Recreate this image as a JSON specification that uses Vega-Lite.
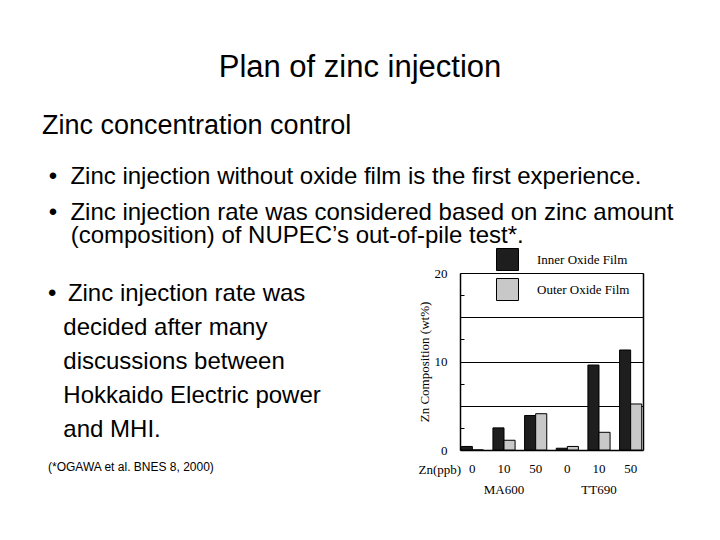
{
  "$schema": "https://vega.github.io/schema/vega-lite/v6.json",
  "background": "white",
  "padding": {"top": 52, "left": 0, "right": 0, "bottom": 0},
  "config": {
    "view": {"stroke": null},
    "font": "Liberation Sans",
    "title": {"fontWeight": "normal", "color": "black", "subtitleColor": "black", "font": "Liberation Sans", "subtitleFont": "Liberation Sans"}
  },
  "title": {
    "text": "Plan of zinc injection",
    "fontSize": 31,
    "anchor": "middle",
    "offset": 28
  },
  "spacing": 0,
  "vconcat": [
    {
      "width": 720,
      "height": 10,
      "data": {"values": []},
      "mark": "text",
      "title": {
        "text": "Zinc concentration control",
        "subtitle": "\u200b\u00a0•\u00a0\u00a0Zinc injection without oxide film is the first experience.",
        "anchor": "start",
        "dx": 42,
        "fontSize": 27,
        "subtitleFontSize": 24,
        "subtitlePadding": 25,
        "offset": 0
      }
    },
    {
      "width": 720,
      "height": 19,
      "data": {"values": []},
      "mark": "text",
      "title": {
        "text": [
          "\u200b\u00a0•\u00a0\u00a0Zinc injection rate was considered based on zinc amount",
          "\u200b\u00a0\u00a0\u00a0\u00a0\u200a(composition) of NUPEC’s out-of-pile test*."
        ],
        "anchor": "start",
        "dx": 42,
        "fontSize": 24,
        "lineHeight": 23.5,
        "offset": 0
      }
    },
    {
      "spacing": 97,
      "hconcat": [
        {
          "width": 1,
          "height": 8.5,
          "data": {"values": []},
          "mark": "text",
          "title": {
            "text": [
              "•\u00a0\u2009Zinc injection rate was",
              "\u200b\u00a0\u00a0\u200adecided after many",
              "\u200b\u00a0\u00a0\u200adiscussions between",
              "\u200b\u00a0\u00a0\u200aHokkaido Electric power",
              "\u200b\u00a0\u00a0\u200aand MHI."
            ],
            "subtitle": "(*OGAWA et al. BNES 8, 2000)",
            "orient": "bottom",
            "anchor": "start",
            "dx": 48,
            "fontSize": 24,
            "lineHeight": 34,
            "subtitleFontSize": 12,
            "subtitlePadding": 20.5,
            "offset": 0
          }
        },
        {
          "width": 183,
          "height": 177,
          "data": {
            "values": [
              {"group": "MA600", "key": "MA600|0", "film": "Inner Oxide Film", "zn": 0.4},
              {"group": "MA600", "key": "MA600|0", "film": "Outer Oxide Film", "zn": 0.0},
              {"group": "MA600", "key": "MA600|10", "film": "Inner Oxide Film", "zn": 2.5},
              {"group": "MA600", "key": "MA600|10", "film": "Outer Oxide Film", "zn": 1.1},
              {"group": "MA600", "key": "MA600|50", "film": "Inner Oxide Film", "zn": 3.9},
              {"group": "MA600", "key": "MA600|50", "film": "Outer Oxide Film", "zn": 4.1},
              {"group": "TT690", "key": "TT690|0", "film": "Inner Oxide Film", "zn": 0.2},
              {"group": "TT690", "key": "TT690|0", "film": "Outer Oxide Film", "zn": 0.4},
              {"group": "TT690", "key": "TT690|10", "film": "Inner Oxide Film", "zn": 9.6},
              {"group": "TT690", "key": "TT690|10", "film": "Outer Oxide Film", "zn": 2.0},
              {"group": "TT690", "key": "TT690|50", "film": "Inner Oxide Film", "zn": 11.3},
              {"group": "TT690", "key": "TT690|50", "film": "Outer Oxide Film", "zn": 5.2}
            ]
          },
          "resolve": {"axis": {"x": "independent", "y": "independent"}},
          "layer": [
            {
              "mark": {"type": "bar", "stroke": "black", "strokeWidth": 1},
              "encoding": {
                "x": {
                  "field": "key",
                  "type": "nominal",
                  "sort": null,
                  "scale": {"paddingInner": 0.3, "paddingOuter": 0.04},
                  "axis": {
                    "orient": "bottom",
                    "labelExpr": "split(datum.value, '|')[1]",
                    "labelAngle": 0,
                    "labelFont": "Liberation Serif",
                    "labelFontSize": 13,
                    "labelColor": "black",
                    "labelPadding": 12,
                    "ticks": false,
                    "domainColor": "black",
                    "domainWidth": 1.5,
                    "title": "Zn(ppb)",
                    "titleFont": "Liberation Serif",
                    "titleFontSize": 13,
                    "titleFontWeight": "normal",
                    "titleColor": "black",
                    "titleAnchor": "start",
                    "titleAlign": "left",
                    "titleBaseline": "top",
                    "titleX": -42,
                    "titleY": 13
                  }
                },
                "xOffset": {
                  "field": "film",
                  "type": "nominal",
                  "sort": ["Inner Oxide Film", "Outer Oxide Film"],
                  "scale": {"paddingInner": 0, "paddingOuter": 0}
                },
                "y": {
                  "field": "zn",
                  "type": "quantitative",
                  "scale": {"domain": [0, 20], "nice": false},
                  "axis": {
                    "orient": "left",
                    "values": [0, 2.5, 5, 7.5, 10, 12.5, 15, 17.5, 20],
                    "labelExpr": "datum.value % 10 == 0 ? datum.label : ''",
                    "labelFont": "Liberation Serif",
                    "labelFontSize": 13,
                    "labelColor": "black",
                    "labelPadding": 17,
                    "tickSize": -4,
                    "tickColor": "black",
                    "grid": false,
                    "domainColor": "black",
                    "domainWidth": 1.5,
                    "title": "Zn Composition (wt%)",
                    "titleFont": "Liberation Serif",
                    "titleFontSize": 13,
                    "titleFontWeight": "normal",
                    "titleColor": "black",
                    "titlePadding": 3
                  }
                },
                "color": {
                  "field": "film",
                  "type": "nominal",
                  "scale": {"domain": ["Inner Oxide Film", "Outer Oxide Film"], "range": ["#1e1e1e", "#c8c8c8"]},
                  "legend": {
                    "title": null,
                    "orient": "none",
                    "legendX": 496,
                    "legendY": 58,
                    "padding": 0,
                    "symbolType": "square",
                    "symbolSize": 484,
                    "symbolStrokeColor": "black",
                    "symbolStrokeWidth": 1,
                    "labelFont": "Liberation Serif",
                    "labelFontSize": 13,
                    "labelColor": "black",
                    "labelOffset": 18,
                    "rowPadding": 3
                  }
                }
              }
            },
            {
              "mark": {"type": "bar", "opacity": 0},
              "encoding": {
                "x": {
                  "field": "key",
                  "type": "nominal",
                  "sort": null,
                  "axis": {
                    "orient": "bottom",
                    "labelExpr": "datum.value == 'MA600|10' ? 'MA600' : datum.value == 'TT690|10' ? 'TT690' : ''",
                    "labelAngle": 0,
                    "labelFont": "Liberation Serif",
                    "labelFontSize": 13,
                    "labelColor": "black",
                    "labelPadding": 33,
                    "ticks": false,
                    "domain": false,
                    "title": null
                  }
                },
                "y": {
                  "field": "zn",
                  "type": "quantitative",
                  "axis": {
                    "orient": "right",
                    "values": [5, 10, 15, 20],
                    "labels": false,
                    "tickSize": -4,
                    "tickColor": "black",
                    "grid": true,
                    "gridColor": "black",
                    "gridOpacity": 1,
                    "gridWidth": 1,
                    "domainColor": "black",
                    "domainWidth": 1.5,
                    "title": null
                  }
                }
              }
            }
          ]
        }
      ]
    }
  ]
}
